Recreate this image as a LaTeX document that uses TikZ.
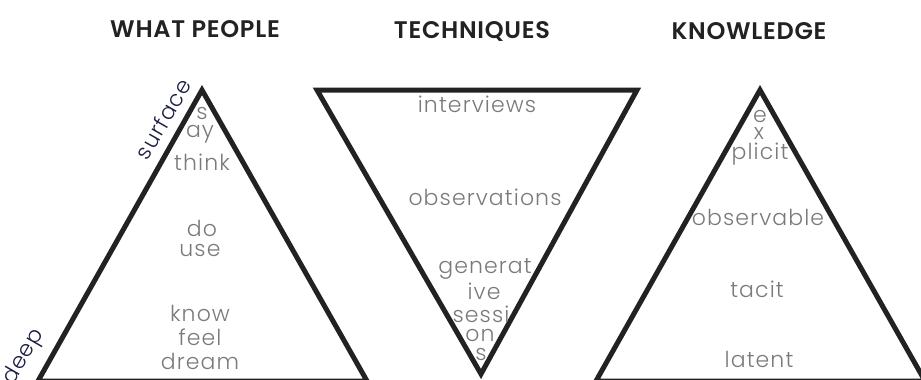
\documentclass[tikz,border=0pt]{standalone}
\usepackage{fontspec}
\setmainfont{Poppins}
\newfontfamily\wordfont[LetterSpace=5]{Poppins Light}
\newfontfamily\headfont[LetterSpace=3]{Poppins SemiBold}
\definecolor{edge}{HTML}{222222}
\definecolor{word}{HTML}{7A7A7A}
\tikzset{
  tri/.style={draw=edge, line width=5pt, line join=miter},
  head/.style={font=\fontsize{24}{24}\selectfont\headfont, text=edge},
  word/.style={font=\fontsize{22}{24}\selectfont\wordfont, text=word, inner sep=0pt},
  side/.style={font=\fontsize{22}{22}\selectfont\wordfont, text=edge!85!blue, rotate=60, inner sep=0pt}
}
\begin{document}
\begin{tikzpicture}[x=1pt,y=-1pt]
\useasboundingbox (0,0) rectangle (921,380);
% headings
\node[head] (hpeople) at (195,29) {WHAT PEOPLE};
\node[head] (htech) at (472,31) {TECHNIQUES};
\node[head] (hknow) at (749,31) {KNOWLEDGE};
% what people
\begin{scope}
\coordinate (pa) at (202,90);
\coordinate (pl) at (38,381);
\coordinate (pr) at (367,381);
\draw[tri] (pa)--(pl)--(pr)--cycle;
\node[side] (surface) at (163,119) {surface};
\node[side] (deep) at (24,357) {deep};
\node[word] (say1) at (202,113) {s};
\node[word] (say2) at (200,134) {ay};
\node[word] (think) at (202,162) {think};
\node[word] (do) at (202,228) {do};
\node[word] (use) at (200,251) {use};
\node[word] (know) at (200,313) {know};
\node[word] (feel) at (200,337) {feel};
\node[word] (dream) at (200,361) {dream};
\end{scope}
% techniques
\begin{scope}
\coordinate (tl) at (317,90);
\coordinate (tr) at (637,90);
\coordinate (tb) at (481,374);
\draw[tri] (tl)--(tr)--(tb)--cycle;
\node[word] (interviews) at (477,104) {interviews};
\node[word] (observ) at (485,197) {observations};
\node[word] (gen1) at (485,269) {generat};
\node[word] (gen2) at (484,291) {ive};
\node[word] (ses1) at (481,314) {sessi};
\node[word] (ses2) at (480,335) {on};
\node[word] (ses3) at (481,354) {s};
\end{scope}
% knowledge
\begin{scope}
\coordinate (ka) at (760,90);
\coordinate (kl) at (596,381);
\coordinate (kr) at (925,381);
\draw[tri] (ka)--(kl)--(kr)--cycle;
\node[word] (exp1) at (760,116) {e};
\node[word] (exp2) at (759,133) {x};
\node[word] (exp3) at (760,154) {plicit};
\node[word] (observable) at (758,217) {observable};
\node[word] (tacit) at (757,289) {tacit};
\node[word] (latent) at (759,359) {latent};
\end{scope}
\end{tikzpicture}
\end{document}
